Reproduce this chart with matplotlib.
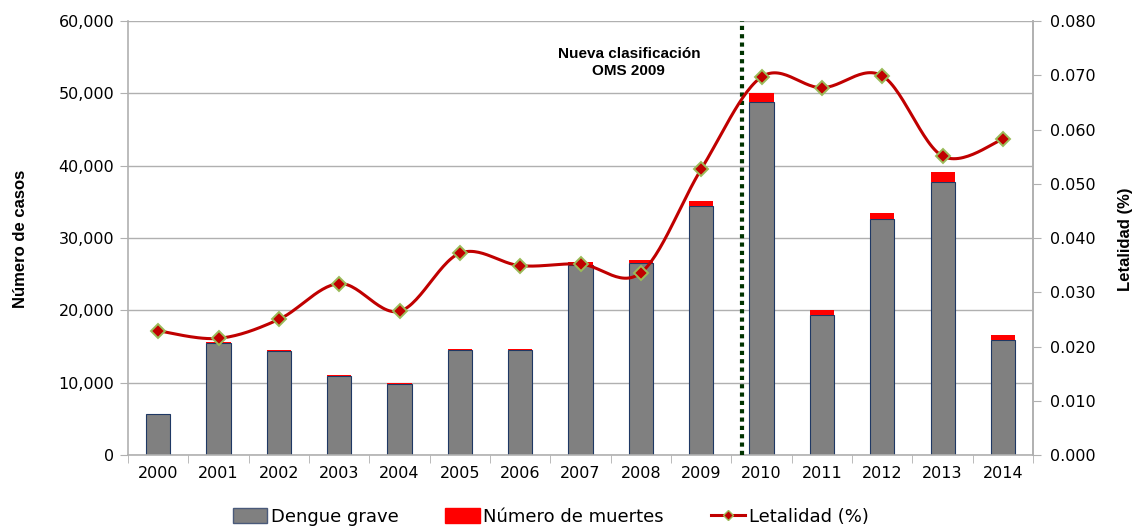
import numpy as np
import matplotlib.pyplot as plt
from matplotlib.patches import Patch
from matplotlib.lines import Line2D
from matplotlib.ticker import FuncFormatter, MultipleLocator

# Dengue grave y muertes por año
anios = ['2000', '2001', '2002', '2003', '2004', '2005', '2006', '2007',
         '2008', '2009', '2010', '2011', '2012', '2013', '2014']
dengue_grave = [5670, 15440, 14380, 10960, 9860, 14560, 14500, 26310,
                26590, 34470, 48840, 19310, 32630, 37790, 15900]
muertes = [60, 160, 140, 100, 90, 90, 110, 330,
           330, 690, 1160, 740, 780, 1290, 690]
letalidad = [0.0229, 0.0215, 0.0250, 0.0316, 0.0265, 0.0372, 0.0349, 0.0352,
             0.0336, 0.0527, 0.0697, 0.0677, 0.0699, 0.0551, 0.0582]

gris = '#808080'
borde = '#1f3864'
rojo = '#ff0000'
linea = '#c00000'
grid_c = '#b0b0b0'


def curva_suave(x, y, n=30):
    # curva tipo Catmull-Rom / Bezier como la linea suavizada de Excel
    x = np.asarray(x, float)
    y = np.asarray(y, float)
    px = np.concatenate([[x[0]], x, [x[-1]]])
    py = np.concatenate([[y[0]], y, [y[-1]]])
    xs, ys = [], []
    t = np.linspace(0, 1, n)
    for i in range(1, len(px) - 2):
        p0 = np.array([px[i], py[i]])
        p3 = np.array([px[i + 1], py[i + 1]])
        c1 = p0 + (np.array([px[i + 1], py[i + 1]]) - np.array([px[i - 1], py[i - 1]])) / 6
        c2 = p3 - (np.array([px[i + 2], py[i + 2]]) - np.array([px[i], py[i]])) / 6
        b = ((1 - t) ** 3)[:, None] * p0 + (3 * (1 - t) ** 2 * t)[:, None] * c1 \
            + (3 * (1 - t) * t ** 2)[:, None] * c2 + (t ** 3)[:, None] * p3
        xs.append(b[:, 0])
        ys.append(b[:, 1])
    return np.concatenate(xs), np.concatenate(ys)


fig = plt.figure(figsize=(11.37, 5.26), dpi=100)
ax = fig.add_axes([0.1126, 0.135, 0.7960, 0.825])
x = np.arange(len(anios))

ax.bar(x, dengue_grave, width=0.4, color=gris, edgecolor=borde, linewidth=0.8, zorder=2)
ax.bar(x, muertes, width=0.4, bottom=dengue_grave, color=rojo, linewidth=0, zorder=2)

ax.set_xlim(-0.5, len(anios) - 0.5)
ax.set_ylim(0, 60000)
ax.yaxis.set_major_locator(MultipleLocator(10000))
ax.yaxis.set_major_formatter(FuncFormatter(lambda v, p: f'{int(v):,}'))
ax.grid(axis='y', color=grid_c, linewidth=1, zorder=0)
ax.set_axisbelow(True)
ax.set_xticks(x)
ax.set_xticklabels(anios)
ax.set_xticks(np.arange(-0.5, len(anios)), minor=True)
ax.tick_params(axis='x', which='major', length=0, labelsize=11.5, pad=8)
ax.tick_params(axis='x', which='minor', length=6, color=grid_c)
ax.tick_params(axis='y', length=6, color=grid_c, labelsize=11.5, pad=4)
for s in ['top']:
    ax.spines[s].set_visible(False)
for s in ['left', 'bottom', 'right']:
    ax.spines[s].set_color(grid_c)
    ax.spines[s].set_linewidth(1.2)

# linea de corte por la nueva clasificacion
ax.axvline(9.67, color='#003300', linestyle=(0, (1, 1)), linewidth=3, zorder=3)
ax.text(7.8, 54300, 'Nueva clasificación\nOMS 2009', ha='center', va='center',
        fontsize=11, fontweight='bold', family='Liberation Sans', linespacing=1.3)

ax2 = ax.twinx()
ax2.set_ylim(0, 0.08)
ax2.yaxis.set_major_locator(MultipleLocator(0.01))
ax2.yaxis.set_major_formatter(FuncFormatter(lambda v, p: f'{v:.3f}'))
ax2.tick_params(axis='y', length=6, color=grid_c, labelsize=11.5, pad=6)
for s in ['top', 'left', 'bottom']:
    ax2.spines[s].set_visible(False)
ax2.spines['right'].set_color(grid_c)
ax2.spines['right'].set_linewidth(1.2)

xc, yc = curva_suave(x, letalidad)
ax2.plot(xc, yc, color=linea, linewidth=2.2, zorder=4)
ax2.plot(x, letalidad, linestyle='none', marker='D', markersize=7.5,
         markerfacecolor=linea, markeredgecolor='#9bbb59', markeredgewidth=1.4, zorder=5)

fig.text(0.018, 0.545, 'Número de casos', rotation=90, ha='center', va='center',
         fontsize=12, fontweight='bold', family='Liberation Sans')
fig.text(0.99, 0.545, 'Letalidad (%)', rotation=90, ha='center', va='center',
         fontsize=12, fontweight='bold', family='Liberation Sans')

handles = [Patch(facecolor=gris, edgecolor='#4a5a7a', linewidth=1),
           Patch(facecolor=rojo, edgecolor=rojo),
           Line2D([0], [0], color=linea, linewidth=2.2, marker='D', markersize=5.5,
                  markerfacecolor=linea, markeredgecolor='#9bbb59')]
ax.legend(handles, ['Dengue grave', 'Número de muertes', 'Letalidad (%)'],
          loc='center', bbox_to_anchor=(0.467, -0.143), ncol=3, frameon=False,
          fontsize=13, handlelength=1.9, handleheight=0.9, handletextpad=0.2,
          columnspacing=2.6, borderaxespad=0)

fig.savefig('out.png', dpi=100)
